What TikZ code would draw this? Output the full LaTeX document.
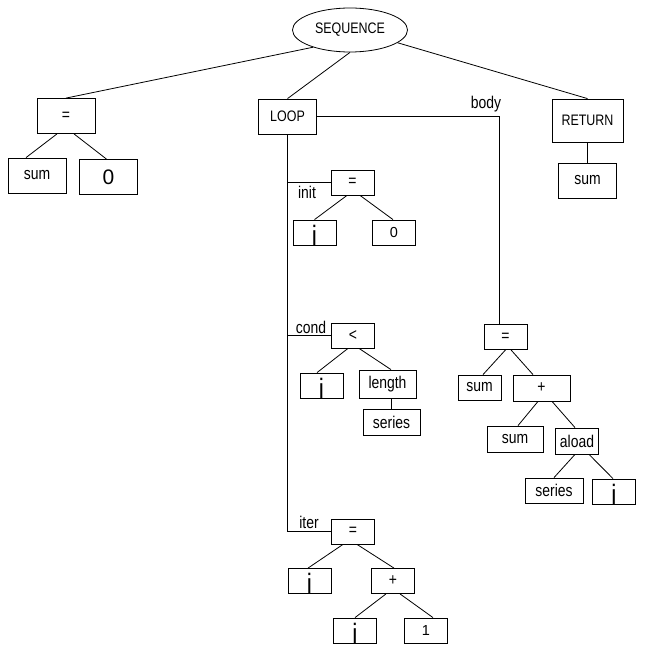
\documentclass[tikz,border=0pt]{standalone}
\usepackage{fontspec}
\setmainfont{Liberation Sans}[FakeStretch=0.82]
\newfontfamily\plainsans{Liberation Sans}
\usetikzlibrary{shapes.geometric}
\newcommand{\bigi}{\fontsize{28}{28}\selectfont\raisebox{-2.5pt}[\height][0pt]{i}}
\tikzset{
  box/.style={draw, inner sep=0pt, minimum width=43, minimum height=25},
  bigbox/.style={box, minimum width=58, minimum height=35},
  caps/.style={font=\fontsize{15.2}{15.2}\selectfont},
  digit/.style={font=\plainsans\fontsize{14.5}{14.5}\selectfont},
  lbl/.style={inner sep=0pt}
}
\begin{document}
\begin{tikzpicture}[x=1pt, y=-1pt, line width=0.8pt, font=\fontsize{17}{17}\selectfont]
\useasboundingbox (0,0) rectangle (645,655);
% top level
\node[draw, ellipse, caps, inner sep=0pt, minimum width=115, minimum height=44] (seq) at (350,30) {SEQUENCE};
\node[bigbox] (eqA) at (66,116) {=};
\node[bigbox] (sumA) at (37,175.5) {sum};
\node[bigbox, font=\plainsans\fontsize{21}{21}\selectfont] (zeroA) at (108.5,177) {0};
\node[bigbox, caps] (loop) at (287.5,116.5) {LOOP};
\node[bigbox, caps, minimum width=71, minimum height=43] (ret) at (587.5,120.5) {RETURN};
\node[bigbox] (retsum) at (587.5,180.5) {sum};
% init
\node[box] (ieq) at (352.5,182.5) {=};
\node[box] (ii) at (314.5,232.5) {\bigi};
\node[box, digit] (izero) at (394,232.5) {0};
% cond
\node[box] (ceq) at (353,335.5) {<};
\node[box] (ci) at (321.5,385.5) {\bigi};
\node[box, minimum width=57, minimum height=28] (clen) at (387.5,384) {length};
\node[box, minimum width=57, minimum height=26] (cser) at (391.5,422) {series};
% iter
\node[box] (teq) at (353,531.5) {=};
\node[box] (ti) at (309.5,581) {\bigi};
\node[box] (tplus) at (393,581) {+};
\node[box] (ti2) at (355,630.5) {\bigi};
\node[box, digit] (tone) at (426,630.5) {1};
% body
\node[box] (beq) at (505.5,337) {=};
\node[box] (bsum) at (479.5,387.5) {sum};
\node[box, minimum width=57, minimum height=26] (bplus) at (541.5,388) {+};
\node[box, minimum width=56, minimum height=26] (bsum2) at (515,439) {sum};
\node[box, minimum height=26] (bload) at (577,441) {aload};
\node[box, minimum width=58] (bser) at (554,490.5) {series};
\node[box] (bi) at (614,491.5) {\bigi};
% branch labels
\node[lbl] (linit) at (307,192.5) {init};
\node[lbl] (lcond) at (311,327) {cond};
\node[lbl] (liter) at (309,522) {iter};
\node[lbl] (lbody) at (486,104) {body};
% edges
\draw (seq.205) -- (eqA.north);
\draw (seq.south) -- (loop.north);
\draw (seq.345) -- (ret.north);
\foreach \p/\s/\c/\t in {eqA/-9/sumA/-11, eqA/8/zeroA/-2, ret/0/retsum/0,
  ieq/-5.5/ii/0, ieq/7.5/izero/-1, ceq/-5/ci/-4.5, ceq/6/clen/3.5, clen/4/cser/0,
  teq/-10/ti/-1.5, teq/4/tplus/1, tplus/-7/ti2/0, tplus/7/tone/7,
  beq/0/bsum/3.5, beq/5.5/bplus/-8.5, bplus/-3.5/bsum2/3, bplus/10.5/bload/-2,
  bload/-2/bser/0, bload/12/bi/-1}
  \draw ([xshift=\s]\p.south) -- ([xshift=\t]\c.north);
\draw (loop.south) |- (teq.west);
\draw (loop.south |- ieq.west) -- (ieq.west);
\draw (loop.south |- ceq.west) -- (ceq.west);
\draw (loop.east) -| ([xshift=-6.5]beq.north);
\end{tikzpicture}
\end{document}
